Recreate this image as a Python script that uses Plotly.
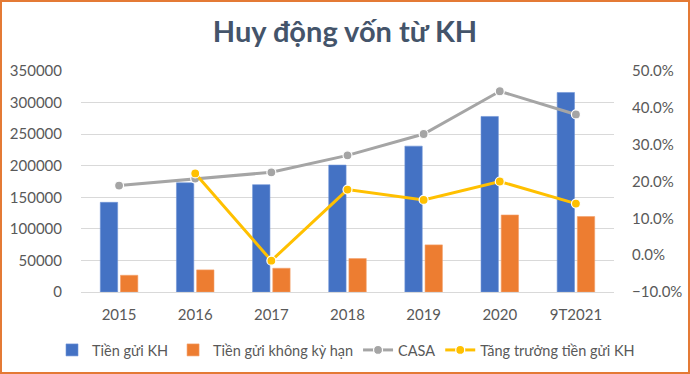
import plotly.graph_objects as go

categories = ["2015", "2016", "2017", "2018", "2019", "2020", "9T2021"]
tien_gui_kh = [142000, 173000, 170000, 201000, 231000, 278000, 316000]
tien_gui_kky = [26500, 35000, 37600, 53000, 74600, 122000, 119500]
casa = [0.189, 0.208, 0.225, 0.271, 0.329, 0.445, 0.382]
tang_truong = [None, 0.222, -0.015, 0.178, 0.150, 0.200, 0.140]

W, H = 690, 374
L, R, T, B = 81, 76, 71, 82
pw, ph = W - L - R, H - T - B

FONT = "Lato"
TXT = "#595959"
FS = 15

fig = go.Figure()
fig.add_trace(go.Bar(x=categories, y=tien_gui_kh, name="Tiền gửi KH",
                     marker=dict(color="#4472C4", line=dict(color="#6F93D6", width=0.6))))
fig.add_trace(go.Bar(x=categories, y=tien_gui_kky, name="Tiền gửi không kỳ hạn",
                     marker=dict(color="#ED7D31", line=dict(color="#F4A06A", width=0.6))))
fig.add_trace(go.Scatter(x=categories, y=casa, name="CASA", yaxis="y2", mode="lines+markers",
                         line=dict(color="#A5A5A5", width=3),
                         marker=dict(size=9, color="#A5A5A5", line=dict(color="white", width=1.2))))
fig.add_trace(go.Scatter(x=categories, y=tang_truong, name="Tăng trưởng tiền gửi KH", yaxis="y2",
                         mode="lines+markers", connectgaps=False,
                         line=dict(color="#FFC000", width=3),
                         marker=dict(size=9, color="#FFC000", line=dict(color="white", width=1.2))))

def px_x(p):
    return (p - L) / pw

def px_y(p):
    return (H - B - p) / ph

fig.add_shape(type="rect", xref="paper", yref="paper",
              x0=px_x(1), x1=px_x(689), y0=px_y(1), y1=px_y(373),
              line=dict(color="#E47A35", width=2), layer="below")

fig.update_layout(
    width=W, height=H,
    margin=dict(l=L, r=R, t=T, b=B, autoexpand=False),
    paper_bgcolor="white", plot_bgcolor="white",
    font=dict(family=FONT, size=FS, color=TXT),
    title=dict(text="<b>Huy động vốn từ KH</b>", x=0.5, xanchor="center",
               y=1 - 32 / H, yanchor="middle",
               font=dict(family=FONT, size=29, color="#44546A")),
    barmode="group", bargap=0.47, bargroupgap=0.14,
    xaxis=dict(showgrid=False, showline=True, linecolor="#D9D9D9", linewidth=1,
               tickfont=dict(size=FS, color=TXT), ticks="", automargin=False,
               ticklabelstandoff=9),
    yaxis=dict(range=[0, 350000], dtick=50000, tickformat="d", showgrid=True,
               gridcolor="#D9D9D9", gridwidth=1, zeroline=False, ticks="",
               ticklabelstandoff=18, tickfont=dict(size=FS, color=TXT), automargin=False),
    yaxis2=dict(range=[-0.1, 0.5], dtick=0.1, tickformat=".1%", overlaying="y", side="right",
                showgrid=False, zeroline=False, ticks="", ticklabelstandoff=17,
                tickfont=dict(size=FS, color=TXT), automargin=False),
    legend=dict(orientation="h", x=px_x(52), xanchor="left", y=px_y(350), yanchor="middle",
                font=dict(size=14.5, color=TXT), itemwidth=30, tracegroupgap=0,
                bgcolor="rgba(0,0,0,0)"),
    showlegend=True,
)

fig.write_html("out.html", config={"displayModeBar": False},
               post_script="document.body.style.margin='0';")
